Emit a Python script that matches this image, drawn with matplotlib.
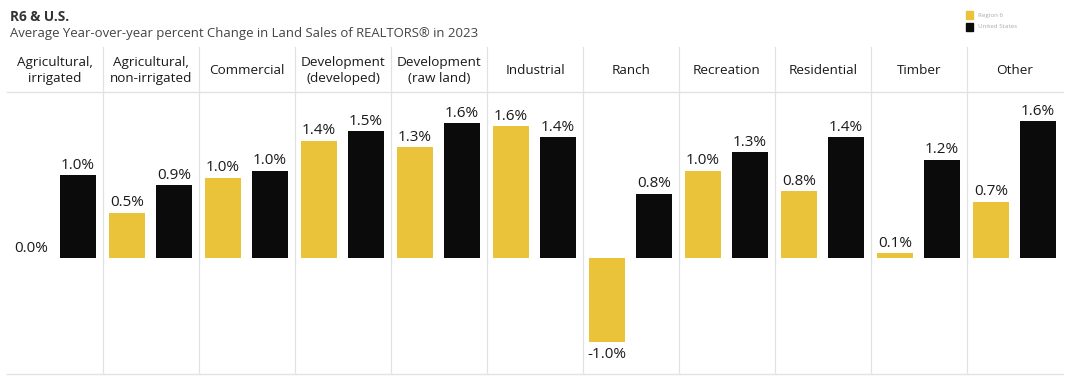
import matplotlib

matplotlib.use("Agg")
import matplotlib.pyplot as plt
import matplotlib.transforms as mtransforms
from matplotlib.patches import Rectangle
import numpy as np

plt.rcParams["font.family"] = ["Open Sans", "DejaVu Sans"]

categories = [
    "Agricultural,\nirrigated", "Agricultural,\nnon-irrigated", "Commercial",
    "Development\n(developed)", "Development\n(raw land)", "Industrial", "Ranch",
    "Recreation", "Residential", "Timber", "Other",
]
region6 = [0.0, 0.54, 0.96, 1.40, 1.32, 1.57, -1.0, 1.04, 0.80, 0.06, 0.67]
united_states = [0.99, 0.87, 1.04, 1.51, 1.61, 1.44, 0.77, 1.26, 1.44, 1.17, 1.63]
series_names = ["Region 6", "United States"]

YELLOW = "#EBC33B"
BLACK = "#0b0b0b"
LINE = "#e2e2e2"
INK = "#1a1a1a"

W, H = 1068, 382
fig = plt.figure(figsize=(W / 100, H / 100), dpi=100)
ax = fig.add_axes([7 / W, 1 - 374 / H, (1063 - 7) / W, (374 - 92) / H])

n = len(categories)
x = np.arange(n)
bw = 0.375
ax.bar(x + 0.25, region6, width=bw, color=YELLOW)
ax.bar(x + 0.74, united_states, width=bw, color=BLACK)

for xi, v in zip(x + 0.25, region6):
    va = "bottom" if v >= 0 else "top"
    off = 0.03 if v >= 0 else -0.06
    ax.text(xi, v + off, f"{v:.1f}%", ha="center", va=va, fontsize=11, color=INK)
for xi, v in zip(x + 0.74, united_states):
    ax.text(xi, v + 0.03, f"{v:.1f}%", ha="center", va="bottom", fontsize=11, color=INK)

ax.set_xlim(0, n)
ax.set_ylim(-1.38, 1.98)
ax.set_xticks([])
ax.set_yticks([])
for side in ("left", "right"):
    ax.spines[side].set_visible(False)
for side in ("top", "bottom"):
    ax.spines[side].set_color(LINE)
    ax.spines[side].set_linewidth(1)

# panel separators and headers
trans = mtransforms.blended_transform_factory(ax.transData, ax.transAxes)
for b in range(1, n):
    ax.plot([b, b], [0, 1.16], transform=trans, color=LINE, lw=0.9, clip_on=False)
for i, cat in enumerate(categories):
    ax.text(i + 0.5, 1.078, cat, transform=trans, ha="center", va="center",
            fontsize=9.7, color=INK, linespacing=1.3)

fig.text(10 / W, 1 - 17 / H, "R6 & U.S.", fontsize=9.8, fontweight="bold",
         color="#333333", va="center")
fig.text(10 / W, 1 - 33 / H,
         "Average Year-over-year percent Change in Land Sales of REALTORS® in 2023",
         fontsize=9.45, color="#444444", va="center")

# legend
for k, (name, col) in enumerate(zip(series_names, [YELLOW, BLACK])):
    yc = 15 + 12 * k
    fig.patches.append(Rectangle((966 / W, 1 - (yc + 4) / H), 7 / W, 8 / H,
                                 transform=fig.transFigure, color=col))
    fig.text(978 / W, 1 - yc / H, name, fontsize=4.5, color="#aaaaaa", va="center")

fig.savefig("out.png", dpi=100)
